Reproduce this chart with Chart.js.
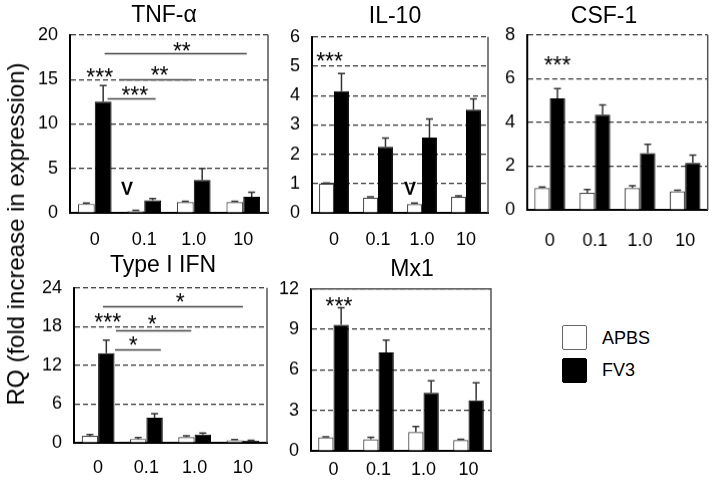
<!DOCTYPE html>
<html><head><meta charset="utf-8">
<script src="https://cdn.jsdelivr.net/npm/chart.js@4"></script>
<style>
body{margin:0;background:#fff;width:714px;height:484px;position:relative;overflow:hidden;font-family:"Liberation Sans",Arial,sans-serif;color:#000}
canvas{position:absolute}
.title{position:absolute;font-size:23px;transform:translate(-50%,-50%);white-space:nowrap;line-height:1}
.ytitle{position:absolute;left:16px;top:234px;font-size:24px;white-space:nowrap;transform:translate(-50%,-50%) rotate(-90deg);line-height:1}
.lg{position:absolute;left:562px;width:23px;height:23px;border-radius:2px}
.lt{position:absolute;left:602px;font-size:18px;transform:translateY(-50%);line-height:1}
</style></head><body>
<canvas id="c0"></canvas><canvas id="c1"></canvas><canvas id="c2"></canvas><canvas id="c3"></canvas><canvas id="c4"></canvas>
<div class="ytitle">RQ (fold increase in expression)</div>
<div id="titles"></div>
<div class="lg" style="top:325px;background:#fff;border:1.5px solid #666"></div>
<div class="lg" style="top:358px;background:#000;border:1.5px solid #000"></div>
<div class="lt" style="top:338px">APBS</div>
<div class="lt" style="top:370px">FV3</div>
<script>
// ---- data ----
const doses = ['0', '0.1', '1.0', '10'];
const seriesNames = ['APBS', 'FV3'];
const panelTitles = ['TNF-\u03b1', 'IL-10', 'CSF-1', 'Type I IFN', 'Mx1'];

const tnfAPBS = [1.0, 0.2, 1.2, 1.2];
const tnfFV3 = [12.5, 1.4, 3.7, 1.8];
const tnfAPBSErr = [0.1, 0.08, 0.1, 0.1];
const tnfFV3Err = [1.8, 0.2, 1.3, 0.5];
const tnfTicks = {max: 20, step: 5};

const il10APBS = [1.0, 0.52, 0.3, 0.55];
const il10FV3 = [4.15, 2.25, 2.57, 3.52];
const il10APBSErr = [0.02, 0.03, 0.03, 0.03];
const il10FV3Err = [0.6, 0.3, 0.63, 0.37];
const il10Ticks = {max: 6, step: 1};

const csfAPBS = [1.0, 0.78, 1.0, 0.85];
const csfFV3 = [5.1, 4.35, 2.6, 2.15];
const csfAPBSErr = [0.05, 0.15, 0.1, 0.05];
const csfFV3Err = [0.45, 0.45, 0.4, 0.35];
const csfTicks = {max: 8, step: 2};

const ifnAPBS = [1.1, 0.6, 0.9, 0.4];
const ifnFV3 = [13.9, 3.9, 1.3, 0.3];
const ifnAPBSErr = [0.2, 0.2, 0.2, 0.1];
const ifnFV3Err = [2.0, 0.6, 0.2, 0.1];
const ifnTicks = {max: 24, step: 6};

const mx1APBS = [1.0, 0.85, 1.4, 0.8];
const mx1FV3 = [9.35, 7.3, 4.3, 3.75];
const mx1APBSErr = [0.05, 0.15, 0.4, 0.05];
const mx1FV3Err = [1.25, 0.9, 0.9, 1.3];
const mx1Ticks = {max: 12, step: 3};

// significance brackets: [fromCategory, toCategory, value]
const tnfSigLines = [[0.26, 1.23, 12.9], [0.5, 1.96, 15.0], [0.2, 3.07, 17.9]];
const tnfStars = [[0.1, 15.8, '***'], [0.81, 13.8, '***'], [1.31, 16.1, '**'], [1.76, 18.8, '**']];
const tnfMarks = [[0.65, 2.8, 'V']];
const il10SigLines = [];
const il10Stars = [[-0.1, 5.35, '***']];
const il10Marks = [[1.73, 0.85, 'V']];
const csfSigLines = [];
const csfStars = [[0.17, 6.85, '***']];
const csfMarks = [];
const ifnSigLines = [[0.35, 1.3, 14.4], [0.37, 1.93, 17.5], [0.1, 3.0, 21.2]];
const ifnStars = [[0.2, 19.5, '***'], [0.73, 15.9, '*'], [1.12, 19.2, '*'], [1.7, 22.6, '*']];
const ifnMarks = [];
const mx1SigLines = [];
const mx1Stars = [[0.12, 11.1, '***']];
const mx1Marks = [];

// ---- layout (frame of each plot area, title centre) ----
const panels = [
  {apbs: tnfAPBS, fv3: tnfFV3, ea: tnfAPBSErr, ef: tnfFV3Err, ticks: tnfTicks, lines: tnfSigLines, stars: tnfStars, marks: tnfMarks,
   L: 70, R: 268, T: 35, B: 213, tx: 164, ty: 14, lp: 16, topSolid: false},
  {apbs: il10APBS, fv3: il10FV3, ea: il10APBSErr, ef: il10FV3Err, ticks: il10Ticks, lines: il10SigLines, stars: il10Stars, marks: il10Marks,
   L: 312, R: 488, T: 37, B: 213, tx: 395, ty: 15, lp: 16, topSolid: false},
  {apbs: csfAPBS, fv3: csfFV3, ea: csfAPBSErr, ef: csfFV3Err, ticks: csfTicks, lines: csfSigLines, stars: csfStars, marks: csfMarks,
   L: 527, R: 707, T: 35, B: 210, tx: 604, ty: 15, lp: 20, topSolid: false},
  {apbs: ifnAPBS, fv3: ifnFV3, ea: ifnAPBSErr, ef: ifnFV3Err, ticks: ifnTicks, lines: ifnSigLines, stars: ifnStars, marks: ifnMarks,
   L: 74, R: 267, T: 288, B: 443, tx: 163, ty: 264, lp: 14, topSolid: false},
  {apbs: mx1APBS, fv3: mx1FV3, ea: mx1APBSErr, ef: mx1FV3Err, ticks: mx1Ticks, lines: mx1SigLines, stars: mx1Stars, marks: mx1Marks,
   L: 311, R: 491, T: 289, B: 451, tx: 412, ty: 268, lp: 8, topSolid: true}
];

const FONT = '"Liberation Sans", Arial, sans-serif';
const YW = 50, PT = 14, PR = 6, XH = 40;
const STAR = 23;

const decor = {
  id: 'decor',
  afterDatasetsDraw(chart, args, o) {
    const ctx = chart.ctx, xs = chart.scales.x, ys = chart.scales.y, a = chart.chartArea;
    ctx.save();
    o.errors.forEach((errs, di) => {
      const meta = chart.getDatasetMeta(di);
      meta.data.forEach((bar, j) => {
        const v = chart.data.datasets[di].data[j];
        const yTop = ys.getPixelForValue(v + errs[j]);
        ctx.strokeStyle = '#333'; ctx.lineWidth = 1.5;
        ctx.beginPath();
        ctx.moveTo(bar.x, bar.y); ctx.lineTo(bar.x, yTop);
        ctx.moveTo(bar.x - 3.5, yTop); ctx.lineTo(bar.x + 3.5, yTop);
        ctx.stroke();
      });
    });
    ctx.strokeStyle = '#555'; ctx.lineWidth = 1.5;
    ctx.beginPath();
    ctx.moveTo(a.right, a.bottom); ctx.lineTo(a.right, a.top);
    if (o.topSolid) { ctx.lineTo(a.left, a.top); }
    ctx.stroke();
    ctx.strokeStyle = '#444'; ctx.lineWidth = 1.3;
    o.lines.forEach(([f, t, v]) => {
      const y = Math.round(ys.getPixelForValue(v)) + 0.5;
      ctx.beginPath(); ctx.moveTo(xs.getPixelForValue(f), y); ctx.lineTo(xs.getPixelForValue(t), y); ctx.stroke();
    });
    ctx.fillStyle = '#000'; ctx.textAlign = 'center'; ctx.textBaseline = 'alphabetic';
    ctx.font = STAR + 'px ' + FONT;
    o.stars.forEach(([x, v, s]) => {
      ctx.fillText(s, xs.getPixelForValue(x), ys.getPixelForValue(v) + 0.58 * STAR);
    });
    ctx.font = 'bold 18px ' + FONT;
    o.marks.forEach(([x, v, s]) => {
      ctx.fillText(s, xs.getPixelForValue(x), ys.getPixelForValue(v) + 0.36 * 18);
    });
    ctx.restore();
  }
};

function makeConfig(p) {
  return {
    type: 'bar',
    data: {
      labels: doses,
      datasets: [
        {label: seriesNames[0], data: p.apbs, backgroundColor: '#fff', borderColor: '#444', borderWidth: 1.2},
        {label: seriesNames[1], data: p.fv3, backgroundColor: '#000', borderColor: '#000', borderWidth: 1}
      ]
    },
    plugins: [decor],
    options: {
      responsive: false, animation: false, devicePixelRatio: 1,
      layout: {padding: {left: 0, top: PT, right: PR, bottom: 0}},
      datasets: {bar: {categoryPercentage: 0.68, barPercentage: 1.0}},
      plugins: {
        legend: {display: false}, title: {display: false}, tooltip: {enabled: false},
        decor: {errors: [p.ea, p.ef], lines: p.lines, stars: p.stars, marks: p.marks, topSolid: p.topSolid}
      },
      scales: {
        x: {
          offset: true,
          grid: {display: false, drawTicks: false},
          border: {display: true, color: '#000', width: 2},
          ticks: {color: '#000', font: {size: 18, family: FONT}, padding: p.lp, maxRotation: 0},
          afterFit: s => { s.height = XH; }
        },
        y: {
          min: 0, max: p.ticks.max,
          grid: {color: '#333', lineWidth: 1.2, drawTicks: false},
          border: {display: true, color: '#000', width: 2, dash: [5, 3]},
          ticks: {stepSize: p.ticks.step, color: '#000', font: {size: 18, family: FONT}, padding: 12},
          afterFit: s => { s.width = YW; }
        }
      }
    }
  };
}

function sizeCanvas(cv, w, h, left, top) {
  cv.width = w; cv.height = h;
  cv.style.width = w + 'px'; cv.style.height = h + 'px';
  cv.style.left = left + 'px'; cv.style.top = top + 'px';
}

const titles = document.getElementById('titles');
panels.forEach((p, i) => {
  const cv = document.getElementById('c' + i);
  // pass 1: measure the chart-area offsets the library produces
  let w = (p.R - p.L) + YW + PR, h = (p.B - p.T) + PT + XH;
  sizeCanvas(cv, w, h, p.L - YW, p.T - PT);
  let ch = new Chart(cv, makeConfig(p));
  const a = ch.chartArea;
  const offL = a.left, offT = a.top, offR = w - a.right, offB = h - a.bottom;
  ch.destroy();
  // pass 2: size the canvas so the plot area lands on the frame
  w = (p.R - p.L) + offL + offR; h = (p.B - p.T) + offT + offB;
  sizeCanvas(cv, w, h, p.L - offL, p.T - offT);
  new Chart(cv, makeConfig(p));

  const t = document.createElement('div');
  t.className = 'title'; t.textContent = panelTitles[i];
  t.style.left = p.tx + 'px'; t.style.top = p.ty + 'px';
  titles.appendChild(t);
});
</script>
</body></html>
